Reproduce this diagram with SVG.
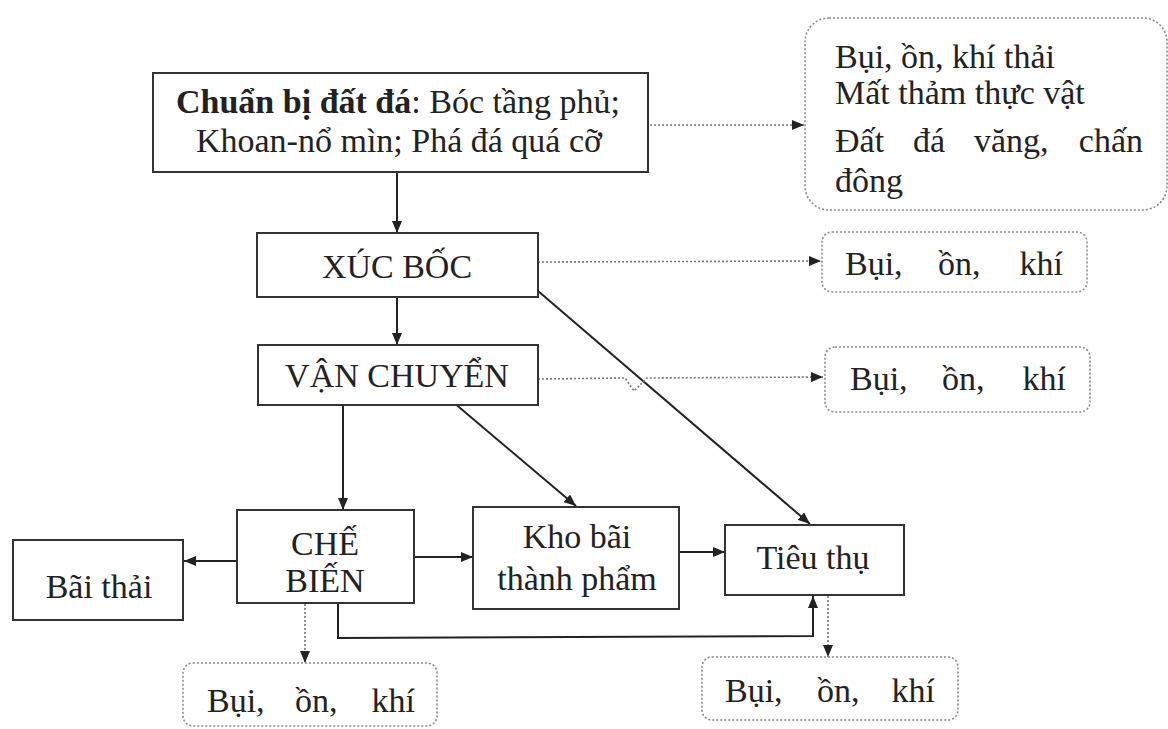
<svg xmlns="http://www.w3.org/2000/svg" width="1168" height="729" viewBox="0 0 1168 729">
<style>
text{font-family:"Liberation Serif","Times New Roman",serif;font-size:34px;fill:#222}
.box{fill:#fff;stroke:#333;stroke-width:2}
.dbox{fill:#fff;stroke:#8a8a8a;stroke-width:1.6;stroke-dasharray:2 2}
.ln{fill:none;stroke:#222;stroke-width:2}
.dl{fill:none;stroke:#777;stroke-width:1.6;stroke-dasharray:2 2}
.b{font-weight:bold}
</style>
<defs>
<marker id="ah" viewBox="0 0 12 10" refX="12" refY="5" markerWidth="12" markerHeight="10" orient="auto" markerUnits="userSpaceOnUse"><path d="M0,0 L12,5 L0,10 z" fill="#222"/></marker>
</defs>
<rect width="1168" height="729" fill="#fff"/>
<g id="connectors">
<line class="ln" x1="397" y1="172" x2="397" y2="233" marker-end="url(#ah)"/>
<line class="ln" x1="397" y1="297" x2="397" y2="345" marker-end="url(#ah)"/>
<line class="ln" x1="343" y1="405" x2="343" y2="510" marker-end="url(#ah)"/>
<line class="ln" x1="453" y1="402" x2="576" y2="506" marker-end="url(#ah)"/>
<line class="ln" x1="538" y1="291" x2="810" y2="524" marker-end="url(#ah)"/>
<line class="ln" x1="237" y1="561" x2="184" y2="561" marker-end="url(#ah)"/>
<line class="ln" x1="414" y1="557" x2="473" y2="557" marker-end="url(#ah)"/>
<line class="ln" x1="680" y1="552" x2="725" y2="552" marker-end="url(#ah)"/>
<path class="ln" d="M338,603 L338,638 L813,636 L813,596" marker-end="url(#ah)"/>
<line class="dl" x1="650" y1="125" x2="804" y2="125" marker-end="url(#ah)"/>
<line class="dl" x1="538" y1="262" x2="821" y2="261" marker-end="url(#ah)"/>
<path class="dl" d="M538,379 L625,378 L634,391 L647,378 L823,377" marker-end="url(#ah)"/>
<line class="dl" x1="305" y1="604" x2="305" y2="663" marker-end="url(#ah)"/>
<line class="dl" x1="828" y1="596" x2="828" y2="657" marker-end="url(#ah)"/>
</g>
<g id="chuan-bi">
<rect class="box" x="153" y="73" width="495" height="99"/>
<text x="398" y="113" text-anchor="middle"><tspan class="b">Chuẩn bị đất đá</tspan>: Bóc tầng phủ;</text>
<text x="399" y="152" text-anchor="middle">Khoan-nổ mìn; Phá đá quá cỡ</text>
</g>
<g id="tac-dong-1">
<rect class="dbox" x="805" y="18" width="362" height="192" rx="24"/>
<text x="835" y="68">Bụi, ồn, khí thải</text>
<text x="835" y="104">Mất thảm thực vật</text>
<text y="152"><tspan x="835">Đất</tspan><tspan x="913">đá</tspan><tspan x="974">văng,</tspan><tspan x="1143" text-anchor="end">chấn</tspan></text>
<text x="835" y="192">đông</text>
</g>
<g id="xuc-boc">
<rect class="box" x="257" y="233" width="281" height="64"/>
<text x="397" y="278" text-anchor="middle">XÚC BỐC</text>
</g>
<g id="tac-dong-2">
<rect class="dbox" x="822" y="232" width="265" height="60" rx="10"/>
<text y="275"><tspan x="845">Bụi,</tspan><tspan x="938">ồn,</tspan><tspan x="1063" text-anchor="end">khí</tspan></text>
</g>
<g id="van-chuyen">
<rect class="box" x="258" y="345" width="280" height="60"/>
<text x="397" y="387" text-anchor="middle">VẬN CHUYỂN</text>
</g>
<g id="tac-dong-3">
<rect class="dbox" x="825" y="347" width="265" height="65" rx="10"/>
<text y="390"><tspan x="850">Bụi,</tspan><tspan x="942">ồn,</tspan><tspan x="1066" text-anchor="end">khí</tspan></text>
</g>
<g id="che-bien">
<rect class="box" x="237" y="510" width="177" height="93"/>
<text x="325" y="555" text-anchor="middle">CHẾ</text>
<text x="325" y="592" text-anchor="middle">BIẾN</text>
</g>
<g id="bai-thai">
<rect class="box" x="13" y="540" width="170" height="80"/>
<text x="99" y="598" text-anchor="middle">Bãi thải</text>
</g>
<g id="kho-bai">
<rect class="box" x="473" y="507" width="206" height="102"/>
<text x="577" y="548" text-anchor="middle">Kho bãi</text>
<text x="577" y="590" text-anchor="middle">thành phẩm</text>
</g>
<g id="tieu-thu">
<rect class="box" x="725" y="525" width="179" height="70"/>
<text x="813" y="569" text-anchor="middle">Tiêu thụ</text>
</g>
<g id="tac-dong-4">
<rect class="dbox" x="183" y="663" width="254" height="63" rx="10"/>
<text y="712"><tspan x="207">Bụi,</tspan><tspan x="295">ồn,</tspan><tspan x="415" text-anchor="end">khí</tspan></text>
</g>
<g id="tac-dong-5">
<rect class="dbox" x="702" y="657" width="256" height="63" rx="10"/>
<text y="702"><tspan x="725">Bụi,</tspan><tspan x="817">ồn,</tspan><tspan x="935" text-anchor="end">khí</tspan></text>
</g>
</svg>
